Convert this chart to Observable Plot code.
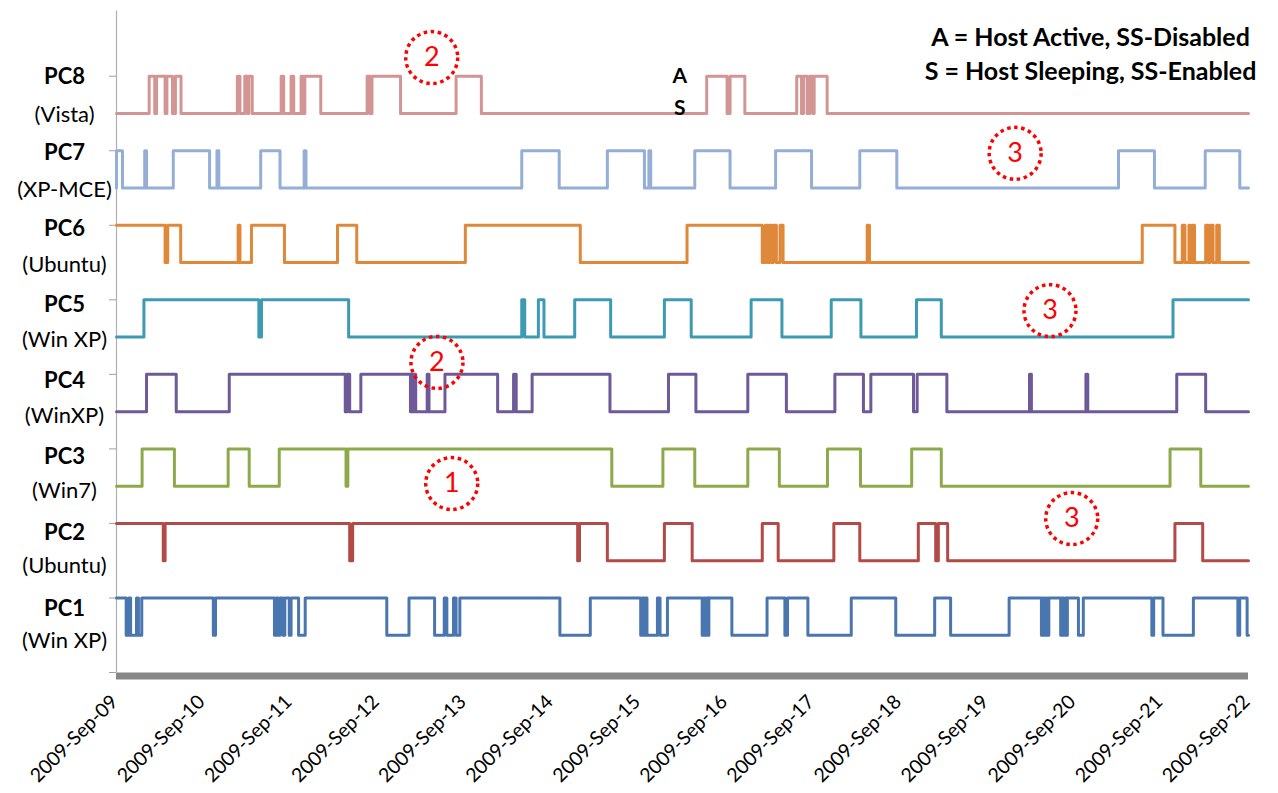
<!DOCTYPE html>
<html>
<head>
<meta charset="utf-8">
<script src="https://cdn.jsdelivr.net/npm/d3@7"></script>
<script src="https://cdn.jsdelivr.net/npm/@observablehq/plot@0.6"></script>
<style>
  html, body { margin: 0; padding: 0; background: #fff; }
  svg { display: block; }
</style>
</head>
<body>
<div id="chart"></div>
<script>
// ---------- data ----------
const hosts   = ["PC1", "PC2", "PC3", "PC4", "PC5", "PC6", "PC7", "PC8"];
const osNames = ["(Win XP)", "(Ubuntu)", "(Win7)", "(WinXP)", "(Win XP)", "(Ubuntu)", "(XP-MCE)", "(Vista)"];
const colors  = ["#4A76B0", "#B24A47", "#8DAA4B", "#6F5A99", "#3D9AB3", "#E0883A", "#94AED6", "#D39494"];
// state at start of period: 1 = A (host active), 0 = S (host sleeping)
const initState = [1, 1, 0, 0, 0, 1, 0, 0];

// state change times, in days after 2009-Sep-09 00:00
const pc1Toggles = [0.111, 0.141, 0.162, 0.23, 0.252, 0.29, 1.112, 1.137, 1.814, 1.835, 1.857, 1.878, 1.912, 1.933, 1.984, 2.005, 2.091, 2.167, 3.104, 3.359, 3.653, 3.764, 3.794, 3.87, 3.9, 3.943, 5.092, 5.441, 6.02, 6.041, 6.058, 6.075, 6.092, 6.212, 6.242, 6.327, 6.726, 6.743, 6.761, 6.778, 6.795, 6.803, 7.067, 7.471, 7.676, 7.706, 7.94, 8.438, 8.949, 9.396, 9.579, 10.251, 10.622, 10.64, 10.66, 10.68, 10.69, 10.707, 10.843, 10.86, 10.88, 10.9, 10.91, 10.92, 11.047, 11.103, 11.89, 11.911, 12.018, 12.367, 12.878, 12.899, 12.984];
const pc2Toggles = [0.537, 0.558, 2.678, 2.712, 5.296, 5.317, 5.637, 6.292, 6.611, 7.416, 7.599, 8.238, 8.536, 9.208, 9.408, 9.438, 9.545, 12.155, 12.474];
const pc3Toggles = [0.294, 0.665, 1.282, 1.524, 1.869, 2.636, 2.657, 5.688, 6.275, 6.641, 7.25, 7.612, 8.165, 8.544, 9.132, 9.472, 12.099, 12.452];
const pc4Toggles = [0.345, 0.686, 1.295, 2.627, 2.648, 2.678, 2.806, 3.376, 3.393, 3.41, 3.419, 3.436, 3.568, 3.589, 3.772, 4.377, 4.56, 4.59, 4.773, 5.667, 6.339, 6.654, 7.25, 7.693, 8.25, 8.578, 8.663, 9.153, 9.195, 9.536, 10.485, 10.507, 11.133, 11.154, 12.176, 12.508];
const pc5Toggles = [0.315, 1.635, 1.665, 2.666, 4.654, 4.688, 4.845, 4.909, 5.262, 5.675, 6.292, 6.6, 7.288, 7.642, 8.208, 8.549, 9.187, 9.472, 12.133];
const pc6Toggles = [0.558, 0.588, 0.737, 1.397, 1.418, 1.55, 1.929, 2.538, 2.759, 4.006, 5.326, 6.552, 7.416, 7.45, 7.476, 7.497, 7.523, 7.544, 7.578, 7.62, 7.655, 8.621, 8.647, 11.78, 12.155, 12.24, 12.27, 12.316, 12.337, 12.355, 12.38, 12.508, 12.538, 12.559, 12.593, 12.635, 12.665];
const pc7Toggles = [0.0, 0.069, 0.324, 0.345, 0.652, 1.069, 1.154, 1.175, 1.656, 1.878, 2.155, 2.176, 4.654, 5.084, 5.637, 6.063, 6.114, 6.135, 6.641, 7.046, 7.569, 7.982, 8.536, 8.961, 11.507, 11.92, 12.503, 12.9];
const pc8Toggles = [0.375, 0.439, 0.46, 0.558, 0.579, 0.643, 0.677, 0.741, 1.388, 1.418, 1.473, 1.503, 1.52, 1.559, 1.891, 1.92, 2.005, 2.035, 2.12, 2.142, 2.163, 2.346, 2.878, 2.908, 2.934, 3.262, 3.9, 4.19, 6.778, 7.012, 7.046, 7.216, 7.812, 7.867, 7.889, 7.931, 7.961, 7.995, 8.012, 8.161];
const toggleLists = [pc1Toggles, pc2Toggles, pc3Toggles, pc4Toggles, pc5Toggles, pc6Toggles, pc7Toggles, pc8Toggles];

const tickDates = ["2009-09-09", "2009-09-10", "2009-09-11", "2009-09-12", "2009-09-13", "2009-09-14", "2009-09-15",
                   "2009-09-16", "2009-09-17", "2009-09-18", "2009-09-19", "2009-09-20", "2009-09-21", "2009-09-22"];
const yTicks = [0, 2, 4, 6, 8, 10, 12, 14, 16];

const legendLines = ["A = Host Active, SS-Disabled", "S = Host Sleeping, SS-Enabled"];
const stateLabels = [{text: "A", day: 6.47, v: 16.0}, {text: "S", day: 6.47, v: 15.15}];
const callouts = [
  {label: "2", day: 3.62, v: 16.5},
  {label: "3", day: 10.32, v: 13.93},
  {label: "3", day: 10.72, v: 9.71},
  {label: "2", day: 3.68, v: 8.32},
  {label: "1", day: 3.85, v: 5.07},
  {label: "3", day: 10.97, v: 4.13}
];

// ---------- build ----------
const start = Date.UTC(2009, 8, 9);
const DAY = 86400000;
const toDate = d => new Date(start + d * DAY);
const periodDays = 13;

const points = [];
hosts.forEach((h, i) => {
  const base = 2 * i + 1;
  let st = initState[i];
  points.push({host: h, t: toDate(0), v: base + st});
  for (const t of toggleLists[i]) {
    st = 1 - st;
    points.push({host: h, t: toDate(t), v: base + st});
  }
  points.push({host: h, t: toDate(periodDays), v: base + st});
});

const nameLabels = hosts.map((h, i) => ({text: h, v: 2 * i + 1 + 0.7 + 0.04 * i}));
const osLabels = osNames.map((o, i) => ({text: o, v: 2 * i + 1 - 0.15 + 0.015 * i}));

const fmt = d3.utcFormat("%Y-%b-%d");
const legendStyle = {frameAnchor: "top", lineAnchor: "middle", dx: 408, fontSize: 25, fontWeight: "bold", fill: "#000"};

const chart = Plot.plot({
  width: 1278,
  height: 793,
  marginLeft: 116,
  marginRight: 30,
  marginTop: 10.5,
  marginBottom: 121,
  x: {type: "utc", domain: [toDate(0), toDate(periodDays)], axis: null},
  y: {domain: [0, 17.75], axis: null},
  color: {domain: hosts, range: colors},
  style: {fontFamily: "Lato, 'Open Sans', sans-serif", background: "#fff", overflow: "visible"},
  marks: [
    Plot.ruleX([toDate(0)], {stroke: "#b0b0b0", strokeWidth: 1.2}),
    Plot.axisY({ticks: yTicks, tickSize: 7, tickFormat: () => "", stroke: "#a0a0a0", label: null}),
    Plot.ruleY([0], {stroke: "#878787", strokeWidth: 7, dy: 3.5}),
    Plot.line(points, {x: "t", y: "v", z: "host", stroke: "host", curve: "step-after", strokeWidth: 3}),
    // x tick labels
    Plot.text(tickDates, {
      x: d => new Date(d + "T00:00:00Z"), text: d => fmt(new Date(d + "T00:00:00Z")),
      frameAnchor: "bottom", rotate: -45, textAnchor: "end", lineAnchor: "middle",
      dx: -2, dy: 26, fontSize: 19.5, fill: "#000"
    }),
    // host labels
    Plot.text(nameLabels, {y: "v", text: "text", frameAnchor: "left", dx: -52, textAnchor: "middle", lineAnchor: "middle", fontSize: 22, fontWeight: "bold", fill: "#000"}),
    Plot.text(osLabels, {y: "v", text: "text", frameAnchor: "left", dx: -52, textAnchor: "middle", lineAnchor: "middle", fontSize: 22, fill: "#000"}),
    // A / S state labels
    Plot.text(stateLabels, {x: d => toDate(d.day), y: "v", text: "text", lineAnchor: "middle", fontSize: 21, fontWeight: "bold", fill: "#000"}),
    // legend
    Plot.text([legendLines[0]], {...legendStyle, dy: 26.5}),
    Plot.text([legendLines[1]], {...legendStyle, dy: 60.5}),
    // red dotted callouts
    Plot.dot(callouts, {x: d => toDate(d.day), y: "v", r: 26, fill: "none", stroke: "#ff0000", strokeWidth: 3.5, strokeDasharray: "3.5 3.6"}),
    Plot.text(callouts, {x: d => toDate(d.day), y: "v", text: "label", lineAnchor: "middle", fill: "#ff0000", fontSize: 27})
  ]
});

document.getElementById("chart").appendChild(chart);
</script>
</body>
</html>
